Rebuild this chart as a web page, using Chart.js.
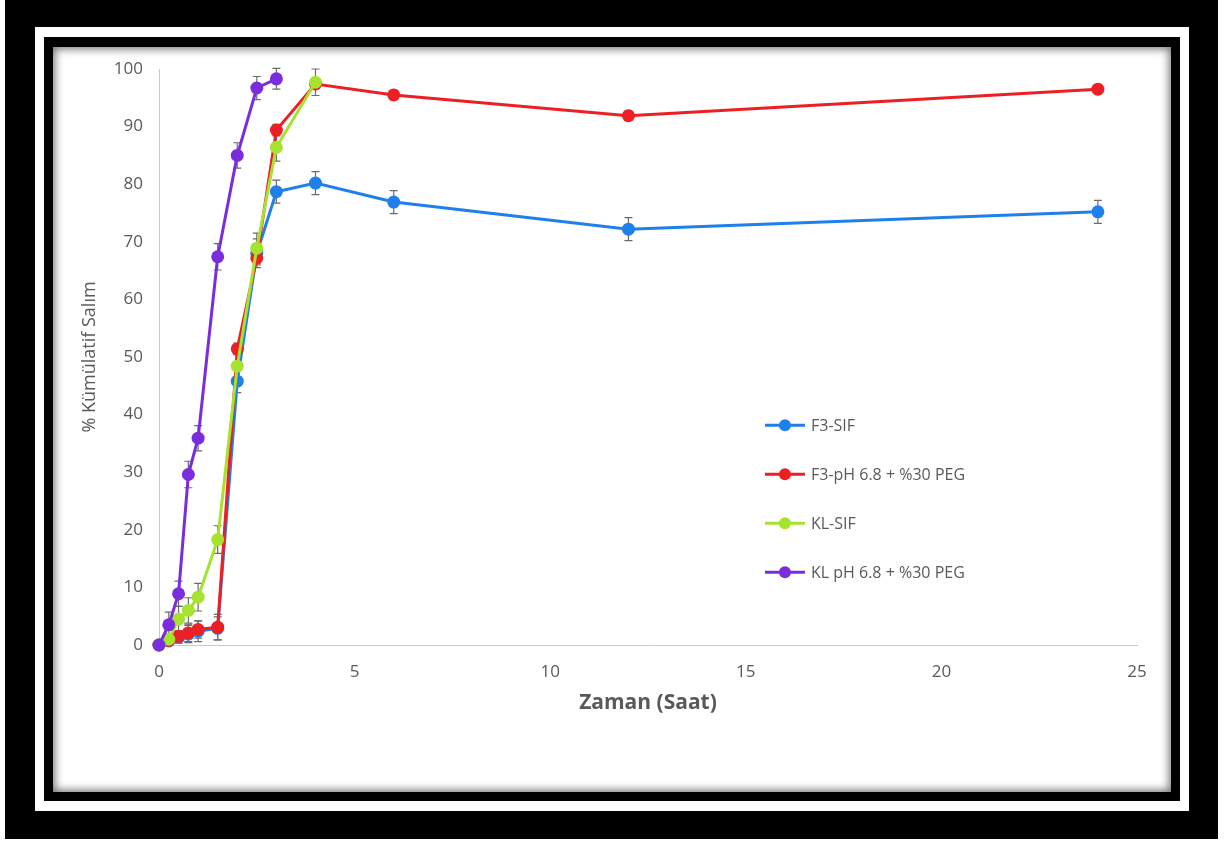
<!DOCTYPE html>
<html><head><meta charset="utf-8">
<script src="https://cdn.jsdelivr.net/npm/chart.js@4.4.1/dist/chart.umd.min.js"></script>
<style>
html,body{margin:0;padding:0;background:#fff;width:1232px;height:843px;overflow:hidden;}
#outer{position:absolute;left:5px;top:0;width:1213px;height:839px;background:#000;}
#mat{position:absolute;left:35px;top:27px;width:1154px;height:784px;background:#fff;}
#inner{position:absolute;left:44px;top:37px;width:1136px;height:764px;background:#000;}
#panel{position:absolute;left:53px;top:47px;width:1118px;height:745px;background:#fff;box-shadow:inset 0 0 9px 2px rgba(0,0,0,0.55);}
#c{position:absolute;left:53px;top:47px;}
</style>
</head><body>
<div id="outer"></div><div id="mat"></div><div id="inner"></div><div id="panel"></div>
<canvas id="c" width="1118" height="745"></canvas>
<script>
// ---- data ----
const seriesNames = ['F3-SIF', 'F3-pH 6.8 + %30 PEG', 'KL-SIF', 'KL pH 6.8 + %30 PEG'];
const timeF3 = [0, 0.25, 0.5, 0.75, 1, 1.5, 2, 2.5, 3, 4, 6, 12, 24];
const timeKLSIF = [0, 0.25, 0.5, 0.75, 1, 1.5, 2, 2.5, 3, 4];
const timeKLPEG = [0, 0.25, 0.5, 0.75, 1, 1.5, 2, 2.5, 3];
const f3SIF = [0, 0.7, 1.3, 1.9, 2.4, 2.9, 45.8, 68.0, 78.7, 80.2, 76.9, 72.2, 75.2];
const f3PEG = [0, 0.8, 1.5, 2.1, 2.7, 3.1, 51.4, 67.2, 89.4, 97.4, 95.5, 91.9, 96.5];
const klSIF = [0, 1.0, 4.5, 6.0, 8.3, 18.3, 48.4, 68.9, 86.4, 97.7];
const klPEG = [0, 3.5, 8.9, 29.6, 35.9, 67.4, 85.0, 96.7, 98.3];
const f3SIFerr = [0, 1, 1, 1.5, 1.8, 2, 2, 2.5, 2, 2, 2, 2, 2];
const f3PEGerr = [0, 1, 1, 1.5, 1.5, 2.2, 1, 1.2, 1, 0.8, 0.8, 0.8, 0.8];
const klSIFerr = [0, 1, 2.2, 2.2, 2.4, 2.4, 2.2, 2.6, 2.4, 2.3];
const klPEGerr = [0, 2.2, 2.2, 2.3, 2.2, 2.3, 2.2, 2.0, 1.8];
const xTickRange = [0, 25, 5];   // min, max, step
const yTickRange = [0, 100, 10];
const colors = ['#1f80eb', '#ec2024', '#a6e22e', '#7a2ddc'];

const FONT = "'Open Sans', 'DejaVu Sans', sans-serif";
const TXT = '#595959';

function pts(xs, ys, es) { return xs.map((x, i) => ({x: x, y: ys[i], err: es[i]})); }

const sets = [
  [timeF3, f3SIF, f3SIFerr],
  [timeF3, f3PEG, f3PEGerr],
  [timeKLSIF, klSIF, klSIFerr],
  [timeKLPEG, klPEG, klPEGerr]
];

const datasets = sets.map((s, i) => ({
  label: seriesNames[i],
  data: pts(s[0], s[1], s[2]),
  borderColor: colors[i],
  backgroundColor: colors[i],
  pointBackgroundColor: colors[i],
  pointBorderWidth: 0,
  pointRadius: 6.5,
  borderWidth: 3,
  tension: 0,
  clip: false,
  order: 4 - i
}));

const errorBars = {
  id: 'errorBars',
  beforeDatasetsDraw(chart) {
    const ctx = chart.ctx, xs = chart.scales.x, ys = chart.scales.y;
    ctx.save();
    ctx.strokeStyle = '#6b6b6b';
    ctx.lineWidth = 1.2;
    chart.data.datasets.forEach(ds => {
      ds.data.forEach(p => {
        if (!p.err) return;
        const px = xs.getPixelForValue(p.x);
        const y1 = ys.getPixelForValue(p.y + p.err);
        const y2 = ys.getPixelForValue(Math.max(0, p.y - p.err));
        ctx.beginPath();
        ctx.moveTo(px, y1); ctx.lineTo(px, y2);
        ctx.moveTo(px - 4, y1); ctx.lineTo(px + 4, y1);
        ctx.moveTo(px - 4, y2); ctx.lineTo(px + 4, y2);
        ctx.stroke();
      });
    });
    ctx.restore();
  }
};

const boxLegend = {
  id: 'boxLegend',
  afterDraw(chart) {
    const ctx = chart.ctx, ca = chart.chartArea;
    const w = ca.right - ca.left, h = ca.bottom - ca.top;
    const x0 = ca.left + w * 0.6196;
    const y0 = ca.top + h * 0.6185;
    const gap = 49;
    ctx.save();
    chart.data.datasets.forEach((ds, i) => {
      const y = y0 + i * gap;
      ctx.strokeStyle = ds.borderColor;
      ctx.lineWidth = 3;
      ctx.beginPath(); ctx.moveTo(x0, y); ctx.lineTo(x0 + 40, y); ctx.stroke();
      ctx.fillStyle = ds.borderColor;
      ctx.beginPath(); ctx.arc(x0 + 20, y, 6, 0, Math.PI * 2); ctx.fill();
      ctx.fillStyle = TXT;
      ctx.font = '16px ' + FONT;
      ctx.textAlign = 'left';
      ctx.textBaseline = 'middle';
      ctx.fillText(ds.label, x0 + 46, y + 1);
    });
    ctx.restore();
  }
};

new Chart(document.getElementById('c'), {
  type: 'line',
  data: { datasets: datasets },
  plugins: [errorBars, boxLegend],
  options: {
    responsive: false,
    animation: false,
    devicePixelRatio: 1,
    layout: { padding: { left: 0, top: 22, right: 34, bottom: 0 } },
    plugins: { legend: { display: false }, tooltip: { enabled: false } },
    scales: {
      x: {
        type: 'linear', min: xTickRange[0], max: xTickRange[1],
        ticks: { stepSize: xTickRange[2], color: TXT, font: { family: FONT, size: 17 }, padding: 17 },
        grid: { display: false, drawTicks: false },
        border: { display: true, color: '#c9c9c9', width: 1 },
        title: { display: true, text: 'Zaman (Saat)', color: TXT,
          font: { family: FONT, size: 21, weight: 'bold' }, padding: { top: 0, bottom: 76 } },
        afterFit(s) { s.height = 147; s.paddingLeft = 0; s.paddingRight = 0; }
      },
      y: {
        type: 'linear', min: yTickRange[0], max: yTickRange[1],
        ticks: { stepSize: yTickRange[2], color: TXT, font: { family: FONT, size: 17 }, padding: 16 },
        grid: { display: false, drawTicks: false },
        border: { display: true, color: '#c9c9c9', width: 1 },
        title: { display: true, text: '% Kümülatif Salım', color: TXT,
          font: { family: FONT, size: 18 }, padding: { top: 26, bottom: 0 } },
        afterFit(s) { s.width = 106; s.paddingTop = 0; s.paddingBottom = 0; }
      }
    }
  }
});
</script>
</body></html>
